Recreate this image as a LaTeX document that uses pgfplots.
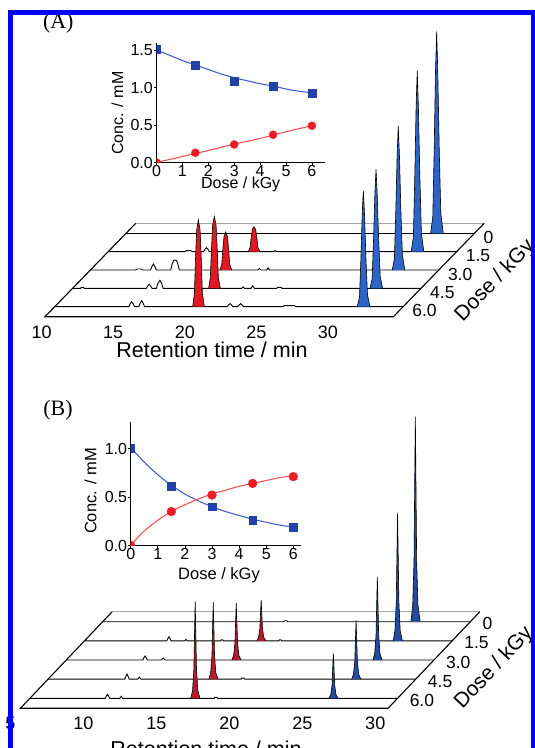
\documentclass[border=0pt]{standalone}
\usepackage{fontspec}
\setmainfont{Liberation Sans}
\newfontfamily\seriffont{Liberation Serif}
\usepackage{pgfplots}
\pgfplotsset{compat=1.18}

\definecolor{frameblue}{RGB}{0,0,250}
\definecolor{pkblueA}{RGB}{45,100,200}
\definecolor{pkredA}{RGB}{222,25,35}
\definecolor{pkblueB}{RGB}{35,75,160}
\definecolor{pkredB}{RGB}{185,25,45}
\definecolor{sqblue}{RGB}{35,65,170}
\definecolor{lnblue}{RGB}{70,95,200}
\definecolor{cired}{RGB}{235,30,40}
\definecolor{lnred}{RGB}{240,85,85}
\definecolor{backgray}{RGB}{165,165,165}

\newcommand{\fs}[1]{\fontsize{#1}{#1}\selectfont}

\pgfplotsset{
  trace/.style={black, line width=0.9pt},
  edge/.style={black, line width=1.1pt},
  peak/.style={draw=black, line width=0.6pt, fill=#1},
  waterfall/.style={hide axis, clip=false, anchor=origin, zmin=0, zmax=210},
  inset/.style={
    anchor=origin, axis lines=left, axis line style={-, line width=1pt},
    clip marker paths=true,
    tick align=outside, major tick length=2.5pt, tick style={black, line width=0.8pt},
    tick label style={font=\fs{16}}, /pgf/number format/assume math mode=true,
    xticklabel style={inner sep=0pt}, yticklabel style={inner sep=1pt},
    xtick={0,1,2,3,4,5,6}, ytick={0,0.5,1,1.5},
    yticklabel style={/pgf/number format/.cd, fixed, fixed zerofill, precision=1},
  },
}

\begin{document}
\begin{tikzpicture}

% ---------------- panel A: chromatograms ----------------
\begin{axis}[waterfall, at={(-20.6pt,514.7pt)},
  x={(14.32pt,0pt)}, y={(-11.88pt,-12.23pt)}, z={(0pt,1pt)},
  xmin=0, xmax=35, ymin=-1, ymax=7]
\addplot3[backgray, line width=0.9pt] coordinates {(10.24,-0.82,0) (34.57,-0.82,0)};
% 0 kGy
\addplot3[trace] coordinates {(10.24,0,0) (34.57,0,0)};
\addplot3[peak=pkblueA] coordinates {(31.51,0,0)(31.66,0,16.2)(31.76,0,84.8)(31.85,0,161.6)(31.93,0,202)(32.01,0,161.6)(32.11,0,84.8)(32.22,0,20.2)(32.39,0,0)};
% 1.5 kGy
\addplot3[trace] coordinates {(10.24,1.5,0)(15.6,1.5,0)(15.7,1.5,1)(16.0,1.5,1)(16.1,1.5,0)(16.9,1.5,0)(17.0,1.5,2.4)(17.1,1.5,4)(17.2,1.5,2.4)(17.3,1.5,0)(21.8,1.5,0)(21.9,1.5,1)(22.0,1.5,0)(34.57,1.5,0)};
\addplot3[peak=pkredA] coordinates {(20.02,1.5,0)(20.14,1.5,3.8)(20.22,1.5,13.8)(20.30,1.5,22)(20.42,1.5,25)(20.54,1.5,22)(20.62,1.5,13.8)(20.70,1.5,3.8)(20.84,1.5,0)};
\addplot3[peak=pkblueA] coordinates {(31.40,1.5,0)(31.55,1.5,14.5)(31.65,1.5,76)(31.74,1.5,144.8)(31.82,1.5,181)(31.90,1.5,144.8)(32.00,1.5,76)(32.11,1.5,18.1)(32.28,1.5,0)};
% 3.0 kGy
\addplot3[trace] coordinates {(10.24,3,0)(13.4,3,0)(13.5,3,1)(13.8,3,1)(13.9,3,0)(14.44,3,0)(14.54,3,3.6)(14.64,3,6)(14.74,3,3.6)(14.84,3,0)(15.85,3,0)(15.95,3,6)(16.05,3,9.5)(16.15,3,10)(16.25,3,9.5)(16.35,3,6)(16.45,3,0)(21.95,3,0)(22.05,3,1.5)(22.15,3,0)(22.55,3,0)(22.65,3,2)(22.75,3,0)(34.57,3,0)};
\addplot3[peak=pkredA] coordinates {(19.29,3,0)(19.41,3,5.7)(19.49,3,20.9)(19.57,3,33.4)(19.69,3,38)(19.81,3,33.4)(19.89,3,20.9)(19.97,3,5.7)(20.11,3,0)};
\addplot3[peak=pkblueA] coordinates {(31.32,3,0)(31.47,3,11.5)(31.57,3,60.5)(31.66,3,115.2)(31.74,3,144)(31.82,3,115.2)(31.92,3,60.5)(32.03,3,14.4)(32.20,3,0)};
% 4.5 kGy
\addplot3[trace] coordinates {(10.24,4.5,0)(10.8,4.5,0)(10.85,4.5,1)(11.0,4.5,1)(11.05,4.5,0)(15.39,4.5,0)(15.49,4.5,2.4)(15.59,4.5,4)(15.69,4.5,2.4)(15.79,4.5,0)(16.09,4.5,0)(16.2,4.5,5)(16.34,4.5,8)(16.46,4.5,5)(16.56,4.5,0)(22.05,4.5,0)(22.15,4.5,1.5)(22.25,4.5,0)(22.7,4.5,0)(22.8,4.5,2.5)(22.95,4.5,0)(24.5,4.5,0)(24.55,4.5,1)(24.8,4.5,1)(24.85,4.5,0)(34.57,4.5,0)};
\addplot3[peak=pkredA] coordinates {(19.74,4.5,0)(19.86,4.5,10.8)(19.94,4.5,39.6)(20.02,4.5,63.4)(20.14,4.5,72)(20.26,4.5,63.4)(20.34,4.5,39.6)(20.42,4.5,10.8)(20.56,4.5,0)};
\addplot3[peak=pkblueA] coordinates {(31.01,4.5,0)(31.16,4.5,9.5)(31.26,4.5,50)(31.35,4.5,95.2)(31.43,4.5,119)(31.51,4.5,95.2)(31.61,4.5,50)(31.72,4.5,11.9)(31.89,4.5,0)};
% 6.0 kGy
\addplot3[trace] coordinates {(10.24,6,0)(15.41,6,0)(15.51,6,3)(15.61,6,5)(15.71,6,3)(15.81,6,0)(16.11,6,0)(16.21,6,3.6)(16.31,6,6)(16.41,6,3.6)(16.51,6,0)(22.28,6,0)(22.38,6,1.8)(22.48,6,3)(22.58,6,1.8)(22.68,6,0)(23.02,6,0)(23.12,6,1.8)(23.22,6,3)(23.32,6,1.8)(23.42,6,0)(26.2,6,0)(26.25,6,1)(27.0,6,1)(27.05,6,0)(34.57,6,0)};
\addplot3[peak=pkredA] coordinates {(19.87,6,0)(19.99,6,13)(20.07,6,47.9)(20.15,6,76.6)(20.27,6,87)(20.39,6,76.6)(20.47,6,47.9)(20.55,6,13)(20.69,6,0)};
\addplot3[peak=pkblueA] coordinates {(31.37,6,0)(31.52,6,9.3)(31.62,6,48.7)(31.71,6,92.8)(31.79,6,116)(31.87,6,92.8)(31.97,6,48.7)(32.08,6,11.6)(32.25,6,0)};
% frame
\addplot3[edge] coordinates {(10.24,-0.82,0) (10.24,6.82,0) (34.57,6.82,0) (34.57,-0.82,0)};
\node[font=\fs{18}, anchor=base, yshift=-21.3pt] at (axis cs:10,6.82,0) {10};
\node[font=\fs{18}, anchor=base, yshift=-21.3pt] at (axis cs:15,6.82,0) {15};
\node[font=\fs{18}, anchor=base, yshift=-21.3pt] at (axis cs:20,6.82,0) {20};
\node[font=\fs{18}, anchor=base, yshift=-21.3pt] at (axis cs:25,6.82,0) {25};
\node[font=\fs{18}, anchor=base, yshift=-21.3pt] at (axis cs:30,6.82,0) {30};
\node[font=\fs{17.5}, inner sep=0pt, anchor=west, xshift=9pt, yshift=-4pt] at (axis cs:34.57,0,0) {0};
\node[font=\fs{17.5}, inner sep=0pt, anchor=west, xshift=9pt, yshift=-4pt] at (axis cs:34.57,1.5,0) {1.5};
\node[font=\fs{17.5}, inner sep=0pt, anchor=west, xshift=9pt, yshift=-4pt] at (axis cs:34.57,3,0) {3.0};
\node[font=\fs{17.5}, inner sep=0pt, anchor=west, xshift=9pt, yshift=-4pt] at (axis cs:34.57,4.5,0) {4.5};
\node[font=\fs{17.5}, inner sep=0pt, anchor=west, xshift=9pt, yshift=-4pt] at (axis cs:34.57,6,0) {6.0};
\end{axis}

% ---------------- panel A: inset ----------------
\begin{axis}[inset, at={(156.5pt,585.5pt)}, x=25.9pt, y=75pt,
  xmin=0, xmax=6.5, ymin=0, ymax=1.59,
  xlabel={Dose / kGy}, ylabel={Conc. / mM},
  every axis x label/.style={at={(axis cs:3.25,-0.29)}, anchor=center, font=\fs{16}},
  every axis y label/.style={at={(axis cs:-1.51,0.656)}, anchor=center, rotate=90, font=\fs{16}}]
\addplot[lnblue, line width=1.1pt, smooth] coordinates {(0,1.50)(0.5,1.43)(1,1.36)(1.5,1.30)(2,1.24)(2.5,1.18)(3,1.13)(3.5,1.09)(4,1.05)(4.5,1.02)(5,0.98)(5.5,0.95)(6,0.93)};
\addplot[lnred, line width=1.1pt, smooth] coordinates {(0,0)(1,0.08)(2,0.16)(3,0.245)(4,0.32)(5,0.41)(6,0.49)};
\addplot[only marks, mark=square*, mark size=3.8pt, sqblue] coordinates {(0,1.51)(1.5,1.30)(3,1.085)(4.5,1.02)(6,0.92)};
\addplot[only marks, mark=*, mark size=4pt, cired] coordinates {(0,0)(1.5,0.13)(3,0.24)(4.5,0.37)(6,0.49)};
\end{axis}

% ---------------- panel B: chromatograms ----------------
\begin{axis}[waterfall, at={(19.8pt,126.3pt)},
  x={(14.59pt,0pt)}, y={(-12.13pt,-12.77pt)}, z={(0pt,1pt)},
  xmin=0, xmax=31, ymin=-1, ymax=7]
\addplot3[backgray, line width=0.9pt] coordinates {(5.68,-0.78,0) (30.88,-0.78,0)};
% 0 kGy
\addplot3[trace] coordinates {(5.68,0,0)(18.1,0,0)(18.15,0,1)(18.3,0,1)(18.35,0,0)(30.88,0,0)};
\addplot3[peak=pkblueB] coordinates {(26.81,0,0)(26.93,0,16.4)(27.02,0,61.5)(27.07,0,143.5)(27.11,0,205)(27.15,0,143.5)(27.20,0,61.5)(27.29,0,16.4)(27.44,0,0)};
% 1.5 kGy
\addplot3[trace] coordinates {(5.68,1.5,0)(11.32,1.5,0)(11.4,1.5,2.4)(11.47,1.5,4)(11.54,1.5,2.4)(11.62,1.5,0)(12.55,1.5,0)(12.64,1.5,1.5)(12.73,1.5,0)(15.0,1.5,0)(15.05,1.5,1)(15.15,1.5,1)(15.2,1.5,0)(19.0,1.5,0)(19.05,1.5,1)(19.15,1.5,1)(19.2,1.5,0)(30.88,1.5,0)};
\addplot3[peak=pkredB] coordinates {(17.49,1.5,0)(17.61,1.5,3.3)(17.70,1.5,12.3)(17.75,1.5,28.7)(17.79,1.5,41)(17.83,1.5,28.7)(17.88,1.5,12.3)(17.97,1.5,3.3)(18.12,1.5,0)};
\addplot3[peak=pkblueB] coordinates {(26.84,1.5,0)(26.96,1.5,10.2)(27.05,1.5,38.4)(27.10,1.5,89.6)(27.14,1.5,128)(27.18,1.5,89.6)(27.23,1.5,38.4)(27.32,1.5,10.2)(27.47,1.5,0)};
% 3.0 kGy
\addplot3[trace] coordinates {(5.68,3,0)(10.93,3,0)(11.0,3,2.4)(11.08,3,4)(11.15,3,2.4)(11.23,3,0)(12.2,3,0)(12.32,3,2)(12.44,3,0)(30.88,3,0)};
\addplot3[peak=pkredB] coordinates {(17.03,3,0)(17.15,3,4.6)(17.24,3,17.1)(17.29,3,39.9)(17.33,3,57)(17.37,3,39.9)(17.42,3,17.1)(17.51,3,4.6)(17.66,3,0)};
\addplot3[peak=pkblueB] coordinates {(26.70,3,0)(26.82,3,6.6)(26.91,3,24.9)(26.96,3,58.1)(27.00,3,83)(27.04,3,58.1)(27.09,3,24.9)(27.18,3,6.6)(27.33,3,0)};
% 4.5 kGy
\addplot3[trace] coordinates {(5.68,4.5,0)(10.94,4.5,0)(11.02,4.5,3)(11.09,4.5,5)(11.16,4.5,3)(11.24,4.5,0)(11.82,4.5,0)(11.93,4.5,2)(12.04,4.5,0)(18.9,4.5,0)(18.95,4.5,1)(19.1,4.5,1)(19.15,4.5,0)(30.88,4.5,0)};
\addplot3[peak=pkredB] coordinates {(16.70,4.5,0)(16.82,4.5,6.2)(16.91,4.5,23.1)(16.96,4.5,53.9)(17.00,4.5,77)(17.04,4.5,53.9)(17.09,4.5,23.1)(17.18,4.5,6.2)(17.33,4.5,0)};
\addplot3[peak=pkblueB] coordinates {(26.49,4.5,0)(26.61,4.5,4.7)(26.70,4.5,17.7)(26.75,4.5,41.3)(26.79,4.5,59)(26.83,4.5,41.3)(26.88,4.5,17.7)(26.97,4.5,4.7)(27.12,4.5,0)};
% 6.0 kGy
\addplot3[trace] coordinates {(5.68,6,0)(10.85,6,0)(10.93,6,2.4)(11.0,6,4)(11.07,6,2.4)(11.15,6,0)(11.84,6,0)(11.94,6,2)(12.04,6,0)(18.3,6,0)(18.35,6,1)(18.5,6,1)(18.55,6,0)(30.88,6,0)};
\addplot3[peak=pkredB] coordinates {(16.71,6,0)(16.83,6,7.8)(16.92,6,29.1)(16.97,6,67.9)(17.01,6,97)(17.05,6,67.9)(17.10,6,29.1)(17.19,6,7.8)(17.34,6,0)};
\addplot3[peak=pkblueB] coordinates {(26.18,6,0)(26.30,6,3.6)(26.39,6,13.5)(26.44,6,31.5)(26.48,6,45)(26.52,6,31.5)(26.57,6,13.5)(26.66,6,3.6)(26.81,6,0)};
% frame
\addplot3[edge] coordinates {(5.68,-0.78,0) (5.68,6.78,0) (30.88,6.78,0) (30.88,-0.78,0)};
\node[font=\fs{18}, anchor=base, yshift=-21.4pt] at (axis cs:5,6.78,0) {5};
\node[font=\fs{18}, anchor=base, yshift=-21.4pt] at (axis cs:10,6.78,0) {10};
\node[font=\fs{18}, anchor=base, yshift=-21.4pt] at (axis cs:15,6.78,0) {15};
\node[font=\fs{18}, anchor=base, yshift=-21.4pt] at (axis cs:20,6.78,0) {20};
\node[font=\fs{18}, anchor=base, yshift=-21.4pt] at (axis cs:25,6.78,0) {25};
\node[font=\fs{18}, anchor=base, yshift=-21.4pt] at (axis cs:30,6.78,0) {30};
\node[font=\fs{17.5}, inner sep=0pt, anchor=west, xshift=12pt, yshift=-2pt] at (axis cs:30.88,0,0) {0};
\node[font=\fs{17.5}, inner sep=0pt, anchor=west, xshift=12pt, yshift=-2pt] at (axis cs:30.88,1.5,0) {1.5};
\node[font=\fs{17.5}, inner sep=0pt, anchor=west, xshift=12pt, yshift=-2pt] at (axis cs:30.88,3,0) {3.0};
\node[font=\fs{17.5}, inner sep=0pt, anchor=west, xshift=12pt, yshift=-2pt] at (axis cs:30.88,4.5,0) {4.5};
\node[font=\fs{17.5}, inner sep=0pt, anchor=west, xshift=12pt, yshift=-2pt] at (axis cs:30.88,6,0) {6.0};
\end{axis}

% ---------------- panel B: inset ----------------
\begin{axis}[inset, at={(130.7pt,202.5pt)}, x=27.1pt, y=97pt,
  xmin=0, xmax=6.3, ymin=0, ymax=1.27, ytick={0,0.5,1},
  xlabel={Dose / kGy}, ylabel={Conc. / mM},
  every axis x label/.style={at={(axis cs:3.26,-0.304)}, anchor=center, font=\fs{16.5}},
  every axis y label/.style={at={(axis cs:-1.48,0.562)}, anchor=center, rotate=90, font=\fs{16.5}}]
\addplot[lnblue, line width=1.1pt, smooth] coordinates {(0,1.01)(0.5,0.86)(1,0.73)(1.5,0.62)(2,0.53)(2.5,0.46)(3,0.40)(3.5,0.35)(4,0.31)(4.5,0.27)(5,0.24)(5.5,0.21)(6,0.19)};
\addplot[lnred, line width=1.1pt, smooth] coordinates {(0,0)(0.25,0.08)(0.5,0.15)(1,0.26)(1.5,0.35)(2,0.42)(2.5,0.48)(3,0.53)(3.5,0.57)(4,0.61)(4.5,0.64)(5,0.67)(5.5,0.70)(6,0.72)};
\addplot[only marks, mark=square*, mark size=3.8pt, sqblue] coordinates {(0,1.00)(1.5,0.61)(3,0.40)(4.5,0.26)(6,0.19)};
\addplot[only marks, mark=*, mark size=4.4pt, cired] coordinates {(0,0)(1.5,0.35)(3,0.52)(4.5,0.64)(6,0.71)};
\end{axis}

% ---------------- titles and outer labels ----------------
\node[font=\fs{21.5}, anchor=base] at (212pt,390.5pt) {Retention time / min};
\node[font=\fs{21}, rotate=46, anchor=center] at (495pt,467pt) {Dose / kGy};
\node[font=\fs{21.5}, anchor=base] at (206pt,-8.5pt) {Retention time / min};
\node[font=\fs{21}, rotate=47, anchor=center] at (494pt,80pt) {Dose / kGy};
\node[font=\seriffont\fs{22}, anchor=base] at (58.3pt,719.3pt) {(A)};
\node[font=\seriffont\fs{22}, anchor=base] at (58pt,332.8pt) {(B)};

% blue outer frame
\fill[frameblue] (8pt,0pt) rectangle (13pt,738pt);
\fill[frameblue] (8pt,733pt) rectangle (536pt,738pt);
\fill[frameblue] (531pt,0pt) rectangle (536pt,738pt);

\pgfresetboundingbox
\path (0pt,0pt) rectangle (535pt,748pt);
\end{tikzpicture}
\end{document}
